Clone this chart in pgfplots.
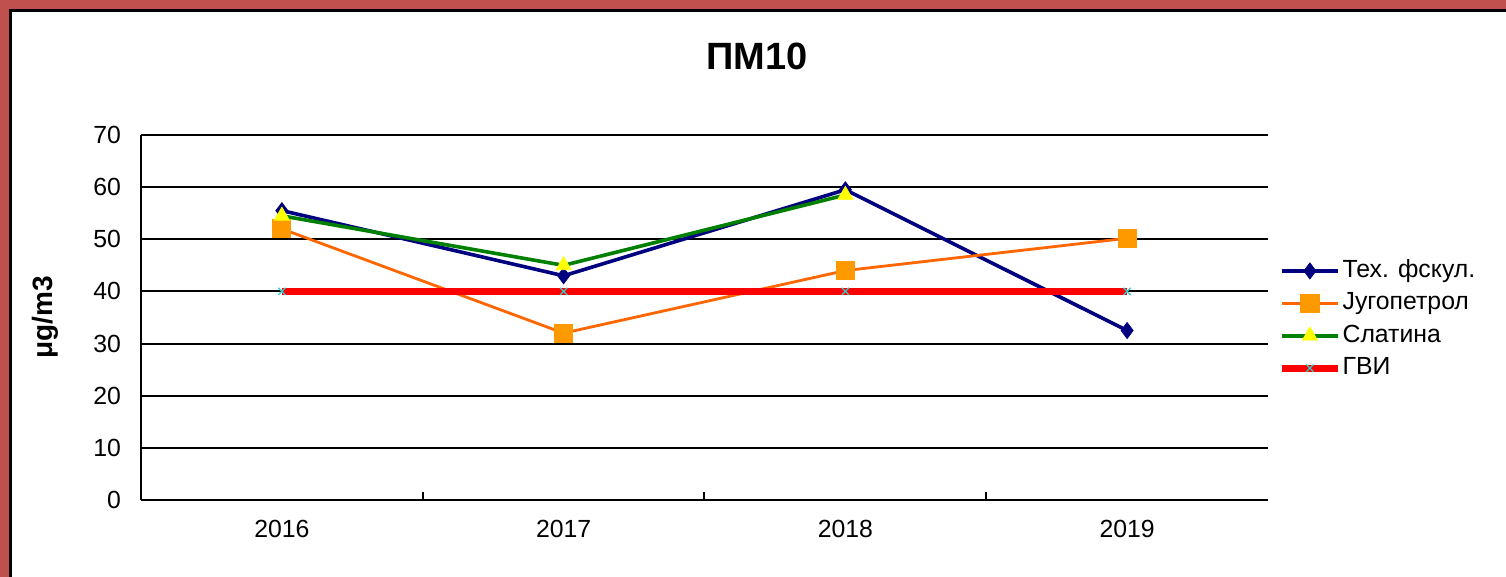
\documentclass[border=0pt]{standalone}
\usepackage{fontspec}
\setmainfont{Liberation Sans}
\usepackage{pgfplots}
\pgfplotsset{compat=1.18}
\definecolor{framered}{HTML}{C0504D}
\definecolor{navyc}{HTML}{000080}
\definecolor{orline}{HTML}{FF6600}
\definecolor{ormark}{HTML}{FF9900}
\definecolor{grline}{HTML}{008000}
\definecolor{yel}{HTML}{FFFF00}
\definecolor{cyx}{HTML}{33CCCC}
\begin{document}
\begin{tikzpicture}
% page and frame
\path[use as bounding box, fill=white] (0,0) rectangle (753pt,-288.5pt);
\fill[framered] (0,0) rectangle (753pt,-4.6pt);
\fill[framered] (0,0) rectangle (4.6pt,-288.5pt);
\draw[black, line width=1.2pt] (5.2pt,-288.5pt) -- (5.2pt,-5.2pt) -- (753pt,-5.2pt);

\begin{axis}[
    at={(70.5pt,-250pt)}, anchor=south west,
    scale only axis, width=563.5pt, height=182.5pt,
    xmin=-0.5, xmax=3.5, ymin=0, ymax=70,
    ytick={0,10,...,70},
    xtick={0,1,2,3}, xticklabels={2016,2017,2018,2019},
    minor xtick={0.5,1.5,2.5},
    major x tick style={draw=none},
    major y tick style={draw=none},
    minor x tick style={black, line width=1pt},
    minor tick length=4pt, tick align=inside,
    axis x line*=bottom, axis y line*=left,
    axis line style={-, black, line width=1pt},
    ymajorgrids, grid style={black, line width=1pt},
    /pgf/number format/assume math mode=true,
    tick label style={font=\fontsize{12.4}{14}\selectfont},
    xticklabel style={yshift=-6.4pt},
    yticklabel style={xshift=-6.5pt},
    title={ПМ10},
    title style={font=\fontsize{19}{22}\selectfont\bfseries, at={(axis description cs:0.5466,1.216)}, anchor=center, yshift=-6pt},
    ylabel={μg/m3},
    ylabel style={font=\fontsize{14}{16}\selectfont\bfseries, at={(axis description cs:-0.0852,0.5)}, anchor=center},
    legend style={at={(1,0.5)}, anchor=west, xshift=5pt, yshift=-1pt, draw=none, fill=none, inner sep=0pt,
        font=\fontsize{12.4}{14}\selectfont, cells={anchor=west}, row sep=3.5pt,
        nodes={inner sep=0.6pt, text height=9pt, text depth=2.5pt}},
    legend image code/.code={\draw[mark repeat=2,mark phase=2] plot coordinates {(0pt,0pt)(14pt,0pt)(28pt,0pt)};},
]
\addplot[color=navyc, line width=1.8pt, mark=diamond*, mark size=4pt,
    mark options={solid, fill=navyc, draw=navyc, line width=0.4pt}]
    coordinates {(0,55.5) (1,43) (2,59.5) (3,32.5)};
\addplot[color=orline, line width=1.4pt, mark=square*, mark size=4.5pt,
    mark options={solid, fill=ormark, draw=ormark, line width=0.4pt}]
    coordinates {(0,52) (1,32) (2,44) (3,50.2)};
\addplot[color=grline, line width=1.8pt, mark=triangle*, mark size=4.3pt,
    mark options={solid, fill=yel, draw=yel, line width=0.4pt}]
    coordinates {(0,54.5) (1,45) (2,58.5)};
\addplot[color=red, line width=3.5pt, mark=x, mark size=2.5pt,
    mark options={solid, draw=cyx, line width=0.6pt}]
    coordinates {(0,40) (1,40) (2,40) (3,40)};
\legend{Тех. фскул., Југопетрол, Слатина, ГВИ}
\end{axis}
\end{tikzpicture}
\end{document}
